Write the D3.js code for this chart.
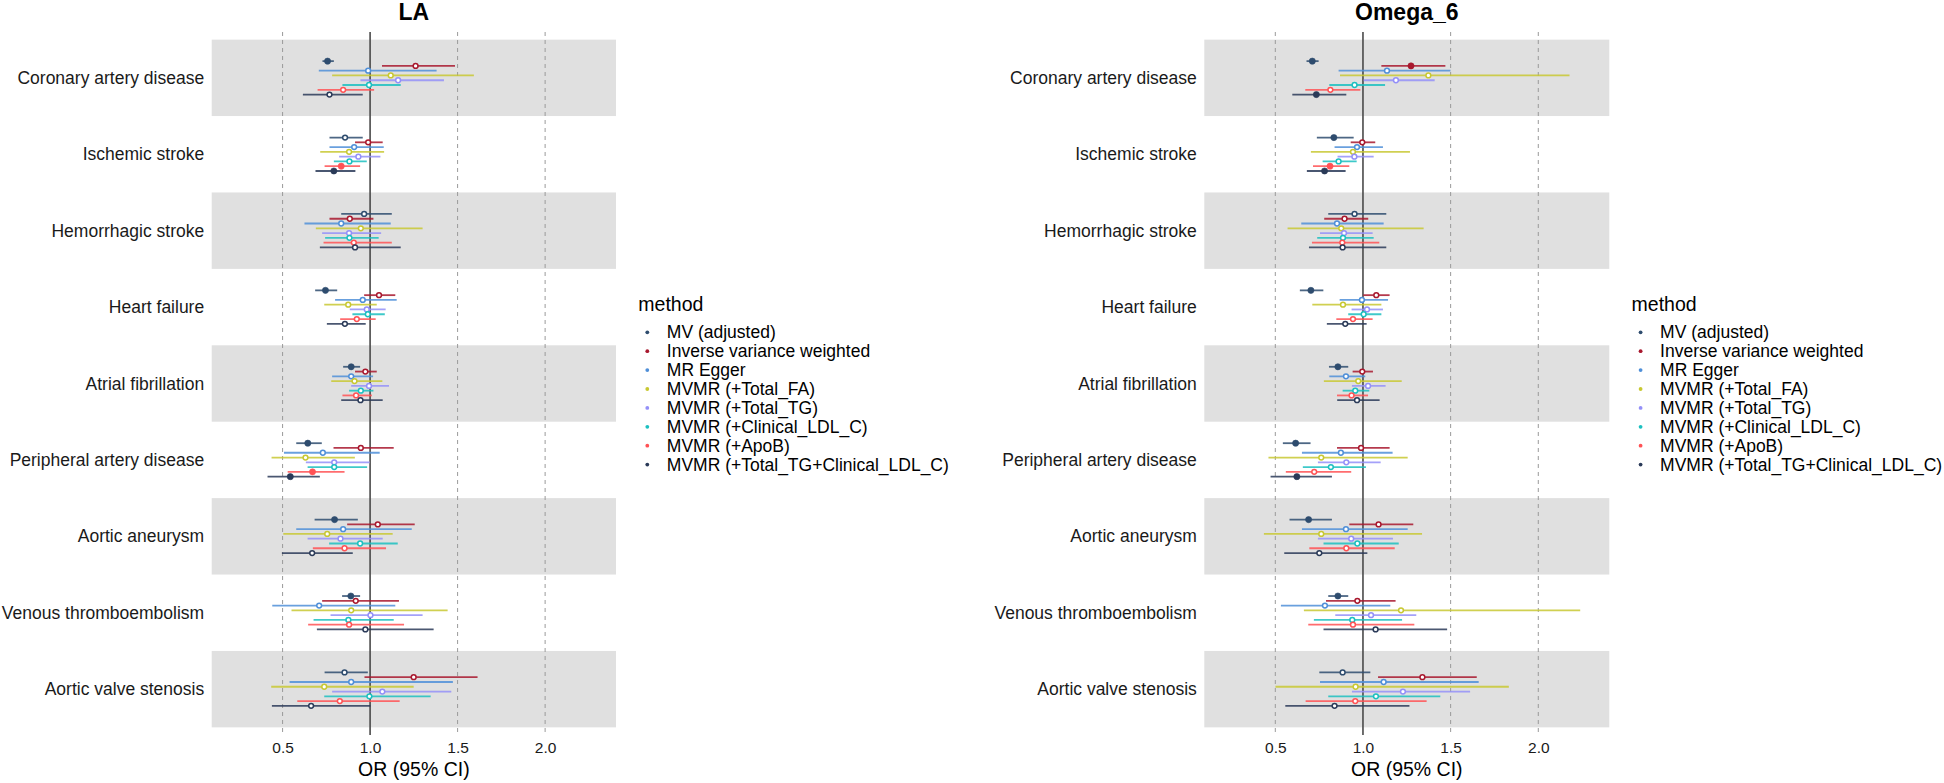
<!DOCTYPE html>
<html>
<head>
<meta charset="utf-8">
<script src="https://cdn.jsdelivr.net/npm/d3@7"></script>
<style>
  html, body { margin: 0; padding: 0; background: #ffffff; }
  svg { display: block; font-family: "Liberation Sans", Arial, Helvetica, sans-serif; }
</style>
</head>
<body>
<svg id="chart" width="1944" height="783"></svg>
<script>
// ---------------- DATA ----------------
const outcomes = ["Coronary artery disease", "Ischemic stroke", "Hemorrhagic stroke", "Heart failure",
  "Atrial fibrillation", "Peripheral artery disease", "Aortic aneurysm", "Venous thromboembolism", "Aortic valve stenosis"];
const methods = ["MV (adjusted)", "Inverse variance weighted", "MR Egger", "MVMR (+Total_FA)",
  "MVMR (+Total_TG)", "MVMR (+Clinical_LDL_C)", "MVMR (+ApoB)", "MVMR (+Total_TG+Clinical_LDL_C)"];
const methodColors = ["#2E4C6E", "#A8182E", "#4F8FD8", "#C8C832", "#9490F8", "#1CC0C0", "#FF5255", "#2A3A58"];
const panelTitles = ["LA", "Omega_6"];
const xTicks = [0.5, 1.0, 1.5, 2.0];
const xTickLabels = ["0.5", "1.0", "1.5", "2.0"];
const xTitle = "OR (95% CI)";
const legendTitle = "method";

// LA: rows = outcomes, columns = methods
const laEst = [
  [0.757, 1.260, 0.989, 1.118, 1.160, 0.994, 0.846, 0.768],
  [0.857, 0.989, 0.909, 0.880, 0.933, 0.882, 0.835, 0.793],
  [0.966, 0.884, 0.835, 0.947, 0.880, 0.882, 0.907, 0.914],
  [0.745, 1.051, 0.958, 0.875, 0.981, 0.987, 0.924, 0.856],
  [0.892, 0.973, 0.892, 0.911, 0.994, 0.947, 0.920, 0.945],
  [0.644, 0.947, 0.730, 0.631, 0.795, 0.795, 0.671, 0.544],
  [0.797, 1.044, 0.846, 0.755, 0.831, 0.943, 0.854, 0.669],
  [0.890, 0.918, 0.709, 0.892, 1.002, 0.876, 0.880, 0.973],
  [0.854, 1.249, 0.892, 0.738, 1.070, 0.996, 0.827, 0.663]
];
const laLow = [
  [0.728, 1.068, 0.707, 0.783, 0.945, 0.842, 0.700, 0.616],
  [0.768, 0.914, 0.768, 0.715, 0.823, 0.793, 0.740, 0.688],
  [0.835, 0.768, 0.625, 0.690, 0.726, 0.743, 0.734, 0.713],
  [0.686, 0.966, 0.800, 0.738, 0.884, 0.899, 0.829, 0.753],
  [0.846, 0.914, 0.783, 0.778, 0.892, 0.880, 0.842, 0.835],
  [0.578, 0.791, 0.508, 0.437, 0.633, 0.643, 0.529, 0.414],
  [0.683, 0.869, 0.578, 0.504, 0.643, 0.766, 0.673, 0.496],
  [0.840, 0.726, 0.441, 0.551, 0.774, 0.677, 0.646, 0.696],
  [0.740, 0.968, 0.540, 0.435, 0.783, 0.738, 0.584, 0.439]
];
const laHigh = [
  [0.793, 1.485, 1.380, 1.593, 1.422, 1.175, 1.023, 0.958],
  [0.958, 1.072, 1.078, 1.080, 1.059, 0.981, 0.943, 0.916],
  [1.124, 1.019, 1.118, 1.300, 1.063, 1.049, 1.124, 1.175],
  [0.812, 1.144, 1.152, 1.038, 1.089, 1.084, 1.032, 0.975],
  [0.943, 1.038, 1.017, 1.070, 1.108, 1.019, 1.010, 1.072],
  [0.724, 1.135, 1.055, 0.913, 0.998, 0.983, 0.854, 0.713],
  [0.930, 1.255, 1.238, 1.129, 1.072, 1.158, 1.091, 0.901],
  [0.943, 1.165, 1.144, 1.443, 1.300, 1.135, 1.194, 1.363],
  [0.987, 1.614, 1.473, 1.249, 1.464, 1.346, 1.169, 1.002]
];
const laSignificant = [
  [1, 0, 0, 0, 0, 0, 0, 0],
  [0, 0, 0, 0, 0, 0, 1, 1],
  [0, 0, 0, 0, 0, 0, 0, 0],
  [1, 0, 0, 0, 0, 0, 0, 0],
  [1, 0, 0, 0, 0, 0, 0, 0],
  [1, 0, 0, 0, 0, 0, 1, 1],
  [1, 0, 0, 0, 0, 0, 0, 0],
  [1, 0, 0, 0, 0, 0, 0, 0],
  [0, 0, 0, 0, 0, 0, 0, 0]
];

// Omega_6
const o6Est = [
  [0.711, 1.274, 1.137, 1.373, 1.188, 0.952, 0.814, 0.734],
  [0.834, 0.996, 0.966, 0.943, 0.951, 0.861, 0.812, 0.781],
  [0.952, 0.895, 0.852, 0.876, 0.892, 0.886, 0.882, 0.884],
  [0.703, 1.076, 0.994, 0.886, 1.023, 1.004, 0.943, 0.899],
  [0.857, 0.996, 0.903, 0.973, 1.029, 0.956, 0.935, 0.966],
  [0.616, 0.989, 0.874, 0.762, 0.905, 0.817, 0.722, 0.623],
  [0.690, 1.089, 0.903, 0.762, 0.933, 0.968, 0.905, 0.751],
  [0.857, 0.968, 0.783, 1.217, 1.046, 0.939, 0.943, 1.072],
  [0.884, 1.339, 1.118, 0.958, 1.228, 1.074, 0.956, 0.838]
];
const o6Low = [
  [0.678, 1.105, 0.861, 0.869, 1.004, 0.808, 0.671, 0.597],
  [0.737, 0.930, 0.838, 0.703, 0.855, 0.770, 0.715, 0.680],
  [0.802, 0.779, 0.648, 0.570, 0.755, 0.739, 0.709, 0.692],
  [0.640, 1.002, 0.867, 0.711, 0.935, 0.916, 0.848, 0.794],
  [0.806, 0.941, 0.808, 0.777, 0.937, 0.884, 0.852, 0.853],
  [0.543, 0.852, 0.652, 0.461, 0.743, 0.657, 0.560, 0.473],
  [0.581, 0.922, 0.652, 0.435, 0.743, 0.775, 0.694, 0.551],
  [0.802, 0.789, 0.532, 0.663, 0.842, 0.720, 0.688, 0.775],
  [0.751, 1.086, 0.755, 0.501, 0.937, 0.802, 0.673, 0.557]
];
const o6High = [
  [0.747, 1.470, 1.499, 2.178, 1.409, 1.126, 0.985, 0.905],
  [0.947, 1.070, 1.114, 1.268, 1.061, 0.964, 0.922, 0.901],
  [1.133, 1.030, 1.118, 1.346, 1.055, 1.061, 1.093, 1.133],
  [0.774, 1.152, 1.143, 1.105, 1.114, 1.105, 1.055, 1.021],
  [0.916, 1.057, 1.013, 1.221, 1.129, 1.036, 1.029, 1.095],
  [0.701, 1.152, 1.169, 1.255, 1.101, 1.017, 0.933, 0.823],
  [0.823, 1.287, 1.255, 1.337, 1.171, 1.204, 1.181, 1.025],
  [0.916, 1.186, 1.156, 2.239, 1.304, 1.223, 1.293, 1.480],
  [1.042, 1.649, 1.660, 1.832, 1.611, 1.441, 1.363, 1.265]
];
const o6Significant = [
  [1, 1, 0, 0, 0, 0, 0, 1],
  [1, 0, 0, 0, 0, 0, 1, 1],
  [0, 0, 0, 0, 0, 0, 0, 0],
  [1, 0, 0, 0, 0, 0, 0, 0],
  [1, 0, 0, 0, 0, 0, 0, 0],
  [1, 0, 0, 0, 0, 0, 0, 1],
  [1, 0, 0, 0, 0, 0, 0, 0],
  [1, 0, 0, 0, 0, 0, 0, 0],
  [0, 0, 0, 0, 0, 0, 0, 0]
];

// ---------------- DRAW ----------------
const svg = d3.select("#chart");
const panels = [
  { title: panelTitles[0], est: laEst, lo: laLow, hi: laHigh, sig: laSignificant, x0: 211.7, x1: 616 },
  { title: panelTitles[1], est: o6Est, lo: o6Low, hi: o6High, sig: o6Significant, x0: 1204.3, x1: 1609.3 }
];
const panelTop = 32, panelBottom = 735;
const xDomain = [0.095, 2.405];
const color = d3.scaleOrdinal().domain(methods).range(methodColors);

panels.forEach(p => {
  const g = svg.append("g");
  const x = d3.scaleLinear().domain(xDomain).range([p.x0, p.x1]);
  const y = d3.scaleBand().domain(outcomes).range([panelTop, panelBottom]).paddingInner(0).paddingOuter(0.1);
  const dodge = d3.scalePoint().domain(methods).range([-3.5, 3.5]);
  const step = y.bandwidth() * 0.0625;

  // alternating grey bands
  g.selectAll("rect.band").data(outcomes.filter((d, i) => i % 2 === 0)).join("rect")
    .attr("x", p.x0).attr("width", p.x1 - p.x0)
    .attr("y", d => y(d)).attr("height", y.bandwidth())
    .attr("fill", "#E0E0E0");

  // dashed reference lines
  g.selectAll("line.grid").data(xTicks.filter(t => t !== 1)).join("line")
    .attr("x1", d => x(d)).attr("x2", d => x(d))
    .attr("y1", panelTop).attr("y2", panelBottom)
    .attr("stroke", "#9a9a9a").attr("stroke-width", 1).attr("stroke-dasharray", "4,4");

  // solid line at OR = 1
  g.append("line")
    .attr("x1", x(1)).attr("x2", x(1)).attr("y1", panelTop).attr("y2", panelBottom)
    .attr("stroke", "#4a4a4a").attr("stroke-width", 1.6);

  // build records
  const recs = [];
  outcomes.forEach((o, i) => methods.forEach((m, j) => {
    recs.push({ o, m, est: p.est[i][j], lo: p.lo[i][j], hi: p.hi[i][j], sig: p.sig[i][j] });
  }));
  const cy = d => y(d.o) + y.bandwidth() / 2 + dodge(d.m) * step;

  g.selectAll("line.ci").data(recs).join("line")
    .attr("x1", d => x(d.lo)).attr("x2", d => x(d.hi))
    .attr("y1", cy).attr("y2", cy)
    .attr("stroke", d => color(d.m)).attr("stroke-width", 1.8).attr("stroke-opacity", 0.85);

  g.selectAll("circle.pt").data(recs).join("circle")
    .attr("cx", d => x(d.est)).attr("cy", cy)
    .attr("r", d => d.sig ? 3.1 : 2.4)
    .attr("fill", d => d.sig ? color(d.m) : "#ffffff")
    .attr("stroke", d => color(d.m)).attr("stroke-width", d => d.sig ? 0.6 : 1.5);

  // y labels
  g.selectAll("text.ylab").data(outcomes).join("text")
    .attr("x", p.x0 - 7.5).attr("y", d => y(d) + y.bandwidth() / 2)
    .attr("text-anchor", "end").attr("dominant-baseline", "central")
    .attr("font-size", "17.5px").attr("fill", "#1a1a1a").text(d => d);

  // x axis
  const ax = g.append("g").attr("transform", `translate(0,${panelBottom + 4})`)
    .call(d3.axisBottom(x).tickValues(xTicks).tickFormat((d, i) => xTickLabels[i]).tickSize(0).tickPadding(3));
  ax.select(".domain").remove();
  ax.selectAll("text").attr("font-size", "15.5px").attr("fill", "#1a1a1a")
    .attr("font-family", "'Liberation Sans', Arial, sans-serif");

  g.append("text").attr("x", (p.x0 + p.x1) / 2).attr("y", 776)
    .attr("text-anchor", "middle").attr("font-size", "19.5px").attr("fill", "#000").text(xTitle);

  // title
  g.append("text").attr("x", (p.x0 + p.x1) / 2).attr("y", 19.5)
    .attr("text-anchor", "middle").attr("font-size", "23px").attr("font-weight", "bold")
    .attr("fill", "#000").text(p.title);

  // legend
  const lg = g.append("g").attr("transform", `translate(${p.x1 + 22.3},0)`);
  lg.append("text").attr("x", 0).attr("y", 303.5).attr("dominant-baseline", "central")
    .attr("font-size", "19.5px").attr("fill", "#000").text(legendTitle);
  const li = lg.selectAll("g.item").data(methods).join("g")
    .attr("transform", (d, i) => `translate(0,${332.3 + i * 18.9})`);
  li.append("circle").attr("cx", 9).attr("cy", 0).attr("r", 1.9).attr("fill", d => color(d));
  li.append("text").attr("x", 28.5).attr("y", 0).attr("dominant-baseline", "central")
    .attr("font-size", "17.5px").attr("fill", "#000").text(d => d);
});
</script>
</body>
</html>
